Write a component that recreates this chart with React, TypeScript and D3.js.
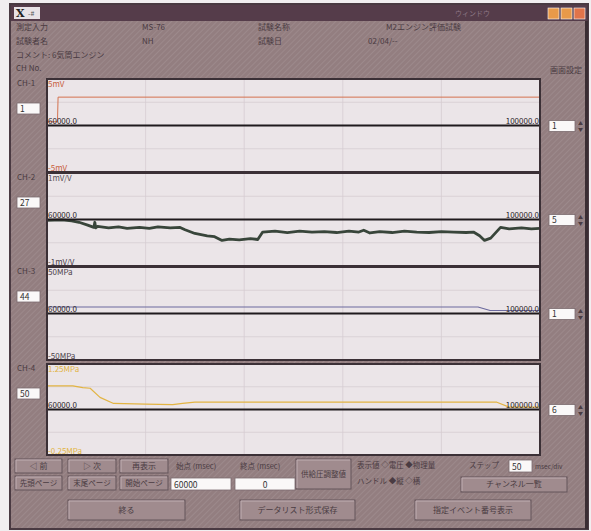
import React from "react";
import * as d3 from "d3";

// ---- data ----
const timeDomain = [60000, 100000];
const timeStartLabel = "60000.0";
const timeEndLabel = "100000.0";

const chNames = ["CH-1", "CH-2", "CH-3", "CH-4"];
const chNumbers = ["1", "27", "44", "50"];
const chScaleBox = ["1", "5", "1", "6"];
const chTopLabels = ["5mV", "1mV/V", "50MPa", "1.25MPa"];
const chBottomLabels = ["-5mV", "-1mV/V", "-50MPa", "-0.25MPa"];
const chMax = [5, 1, 50, 1.25];
const chMin = [-5, -1, -50, -0.25];

const ch1Times = [60000, 60850, 60900, 100000];
const ch1Values = [0.4, 0.4, 3.05, 3.05];

const ch2Times = [60000, 61200, 62000, 62600, 63300, 63800, 63880, 63950, 64100, 65000, 65800, 66500, 67500, 68300, 69000, 70000, 70800, 71200, 72000, 73000, 73600, 74200, 74800, 75600, 76500, 77100, 77500, 78500, 79500, 80500, 81500, 82500, 83500, 84500, 85300, 85700, 86200, 87000, 88000, 89000, 90000, 91000, 92000, 93000, 94000, 94600, 95100, 95500, 96000, 96800, 97500, 98500, 99300, 100000];
const ch2Values = [-0.02, -0.01, -0.03, -0.06, -0.12, -0.17, -0.06, -0.18, -0.15, -0.18, -0.16, -0.19, -0.17, -0.19, -0.16, -0.18, -0.17, -0.22, -0.3, -0.35, -0.37, -0.45, -0.42, -0.44, -0.41, -0.43, -0.27, -0.25, -0.28, -0.25, -0.27, -0.26, -0.28, -0.25, -0.27, -0.23, -0.29, -0.26, -0.28, -0.25, -0.27, -0.28, -0.26, -0.27, -0.28, -0.27, -0.35, -0.45, -0.4, -0.17, -0.2, -0.18, -0.2, -0.19];

const ch3Times = [60000, 94970, 95950, 100000];
const ch3Values = [7, 7, 3.2, 3.2];

const ch4Times = [60000, 62100, 62900, 63500, 64300, 65400, 68000, 70200, 71000, 72000, 80000, 90000, 96500, 97500, 100000];
const ch4Values = [0.89, 0.89, 0.86, 0.85, 0.7, 0.6, 0.59, 0.58, 0.6, 0.62, 0.62, 0.62, 0.62, 0.54, 0.54];

const chSeries = [
  { t: ch1Times, v: ch1Values },
  { t: ch2Times, v: ch2Values },
  { t: ch3Times, v: ch3Values },
  { t: ch4Times, v: ch4Values },
];

// ---- styles ----
const W = 591, H = 531;
const BG = "#937e80";
const PANEL_BG = "#ebe5e8";
const GRID = "#d6cdd2";
const DARK = "#3b3036";
const TEXT = "#4a3b42";
const FONT = "'Noto Sans CJK JP', 'Noto Sans', sans-serif";
const lineColors = ["#d4724f", "#38453a", "#6c6a9e", "#e2b443"];
const topLabelColors = ["#c8603e", "#5a5056", "#4a4048", "#e2b443"];
const bottomLabelColors = ["#c8603e", "#4a4048", "#4a4048", "#e2b443"];
const lineWidths = [1, 2.8, 1.2, 1.2];

const plotLeft = 47;
const plotRight = 540;
const panelTops = [79, 173, 267, 364];
const panelHeights = [93, 93, 93, 91];

function Button({ x, y, w, h, label, fs = 8 }: any) {
  return (
    <g>
      <rect x={x} y={y} width={w} height={h} fill="#a08b8e" stroke="#65545a" strokeWidth={1} />
      <line x1={x + 1} y1={y + 1} x2={x + w - 1} y2={y + 1} stroke="#c0afb2" />
      <line x1={x + 1} y1={y + 1} x2={x + 1} y2={y + h - 1} stroke="#c0afb2" />
      <text x={x + w / 2} y={y + h / 2 + fs * 0.35} fontSize={fs} fill={TEXT} textAnchor="middle" fontFamily={FONT}>{label}</text>
    </g>
  );
}

function Input({ x, y, w, h, value, align = "start" }: any) {
  return (
    <g>
      <rect x={x} y={y} width={w} height={h} fill="#faf8f8" stroke="#7a6a6e" strokeWidth={0.8} />
      <text x={align === "start" ? x + 3 : x + w / 2} y={y + h - 2.5} fontSize={8.5} fill="#333" textAnchor={align === "start" ? "start" : "middle"} fontFamily={FONT}>{value}</text>
    </g>
  );
}

export default function App() {
  const x = d3.scaleLinear().domain(timeDomain).range([plotLeft, plotRight]);
  const gridX = d3.range(1, 5).map((i) => plotLeft + ((plotRight - plotLeft) * i) / 5);

  return (
    <svg width={W} height={H} style={{ position: "absolute", left: 0, top: 0 }} fontFamily={FONT}>
      <defs>
        <pattern id="tex" width="4" height="4" patternUnits="userSpaceOnUse" patternTransform="rotate(45)">
          <rect width="4" height="4" fill={BG} />
          <line x1="0" y1="0" x2="0" y2="4" stroke="#a39092" strokeWidth="1.2" />
        </pattern>
      </defs>
      <rect x={0} y={0} width={W} height={H} fill="#f1eef0" />
      {/* window */}
      <rect x={10} y={4} width={578} height={525} fill="url(#tex)" stroke="#4a3a42" strokeWidth={2} />
      {/* title bar */}
      <rect x={11} y={5} width={576} height={16} fill="#553c4a" />
      <rect x={14} y={7} width={26} height={12} fill="#e8e2e6" />
      <text x={16} y={17} fontSize={11} fontWeight="bold" fill="#222" fontFamily="'DejaVu Serif', serif">X</text>
      <text x={28} y={16} fontSize={7} fill="#555">-#</text>
      <text x={455} y={16} fontSize={7} fill="#8e7886">ウィンドウ</text>
      <rect x={548} y={8} width={11} height={11} fill="#e89a4a" stroke="#fff" strokeWidth={0.6} />
      <rect x={561} y={8} width={11} height={11} fill="#e89a4a" stroke="#fff" strokeWidth={0.6} />
      <rect x={574} y={8} width={11} height={11} fill="#e0744a" stroke="#fff" strokeWidth={0.6} />
      <rect x={585} y={21} width={3} height={508} fill="#3a2d33" />

      {/* header */}
      <g fontSize={8} fill={TEXT}>
        <text x={16} y={30}>測定入力</text>
        <text x={142} y={30}>MS-76</text>
        <text x={258} y={30}>試験名称</text>
        <text x={386} y={30}>M2エンジン評価試験</text>
        <text x={16} y={44}>試験者名</text>
        <text x={142} y={44}>NH</text>
        <text x={258} y={44}>試験日</text>
        <text x={368} y={44}>02/04/--</text>
        <text x={16} y={58}>コメント: 6気筒エンジン</text>
        <text x={16} y={71}>CH No.</text>
        <text x={550} y={73}>画面設定</text>
      </g>

      {/* panels */}
      {chSeries.map((s, i) => {
        const top = panelTops[i];
        const h = panelHeights[i];
        const y = d3.scaleLinear().domain([chMin[i], chMax[i]]).range([top + h, top]);
        const mid = top + h / 2;
        const line = d3.line<number>().x((_, k) => x(s.t[k])).y((d) => y(d));
        const gridY = d3.range(1, 4).filter((k) => k !== 2).map((k) => top + (h * k) / 4);
        return (
          <g key={i}>
            <rect x={plotLeft} y={top} width={plotRight - plotLeft} height={h} fill={PANEL_BG} />
            {gridX.map((gx, k) => (
              <line key={"gx" + k} x1={gx} x2={gx} y1={top} y2={top + h} stroke={GRID} strokeWidth={0.8} />
            ))}
            {gridY.map((gy, k) => (
              <line key={"gy" + k} x1={plotLeft} x2={plotRight} y1={gy} y2={gy} stroke={GRID} strokeWidth={0.8} />
            ))}
            <path d={line(s.v) || ""} fill="none" stroke={lineColors[i]} strokeWidth={lineWidths[i]} strokeLinejoin="round" />
            <line x1={plotLeft} x2={plotRight} y1={mid} y2={mid} stroke="#1f1a1d" strokeWidth={2} />
            <rect x={plotLeft} y={top} width={plotRight - plotLeft} height={h} fill="none" stroke={DARK} strokeWidth={2} />
            <text x={plotLeft + 1} y={top + 8} fontSize={8} fill={topLabelColors[i]}>{chTopLabels[i]}</text>
            <text x={plotLeft + 1} y={top + h - 1} fontSize={8} fill={bottomLabelColors[i]}>{chBottomLabels[i]}</text>
            <text x={plotLeft + 1} y={mid - 2} fontSize={8} fill="#2a2226">{timeStartLabel}</text>
            <text x={plotRight - 1} y={mid - 2} fontSize={8} fill="#2a2226" textAnchor="end">{timeEndLabel}</text>
            <text x={17} y={top + 7} fontSize={8} fill={TEXT}>{chNames[i]}</text>
            <Input x={17} y={top + 24} w={23} h={11} value={chNumbers[i]} />
            <Input x={549} y={mid - 5} w={26} h={11} value={chScaleBox[i]} />
            <text x={578} y={mid - 1} fontSize={5} fill={TEXT}>▲</text>
            <text x={578} y={mid + 5} fontSize={5} fill={TEXT}>▼</text>
          </g>
        );
      })}

      {/* bottom controls */}
      <Button x={15} y={459} w={47} h={14} label="◁ 前" />
      <Button x={68} y={459} w={48} h={14} label="▷ 次" />
      <Button x={120} y={459} w={48} h={14} label="再表示" />
      <text x={176} y={469} fontSize={7.5} fill={TEXT}>始点 (msec)</text>
      <text x={240} y={469} fontSize={7.5} fill={TEXT}>終点 (msec)</text>
      <Button x={15} y={476} w={47} h={14} label="先頭ページ" fs={7.5} />
      <Button x={68} y={476} w={48} h={14} label="末尾ページ" fs={7.5} />
      <Button x={120} y={476} w={48} h={14} label="開始ページ" fs={7.5} />
      <Input x={171} y={478} w={60} h={12} value="60000" />
      <Input x={235} y={478} w={60} h={12} value="0" align="middle" />
      <Button x={296} y={459} w={55} h={30} label="供給圧調整値" fs={7.5} />
      <text x={357} y={468} fontSize={7.5} fill={TEXT}>表示値 ◇電圧 ◆物理量</text>
      <text x={357} y={484} fontSize={7.5} fill={TEXT}>ハンドル ◆縦 ◇横</text>
      <text x={469} y={468} fontSize={7.5} fill={TEXT}>ステップ</text>
      <Input x={509} y={460} w={23} h={12} value="50" />
      <text x={535} y={469} fontSize={6.5} fill={TEXT}>msec/div</text>
      <Button x={461} y={477} w={106} h={15} label="チャンネル一覧" />
      <Button x={68} y={500} w={117} h={20} label="終る" />
      <Button x={240} y={500} w={115} h={20} label="データリスト形式保存" />
      <Button x={415} y={500} w={116} h={20} label="指定イベント番号表示" />
    </svg>
  );
}
